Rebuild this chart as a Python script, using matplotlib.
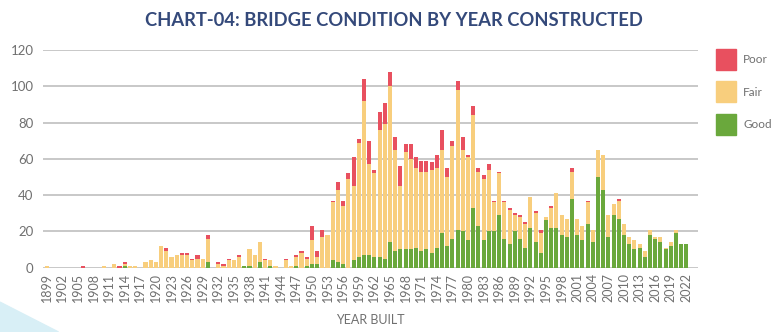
import matplotlib.pyplot as plt
import numpy as np
from matplotlib.patches import Rectangle, Polygon

plt.rcParams['font.family'] = ['Lato', 'DejaVu Sans']

first_year = 1899
last_year = 2022

# bridge counts per year built, 1899..2022
good = [0, 0, 0, 0, 0, 0, 0, 0, 0, 0,            # 1899-1908
        0, 0, 0, 0, 0, 1, 0, 0, 0, 0,            # 1909-1918
        0, 0, 0, 0, 0, 0, 0, 0, 0, 0,            # 1919-1928
        0, 3, 0, 0, 0, 0, 0, 0, 1, 1,            # 1929-1938
        0, 3, 0, 1, 0, 0, 0, 0, 1, 0,            # 1939-1948
        1, 2, 2, 0, 0, 4, 3, 2, 0, 4,            # 1949-1958
        6, 7, 7, 6, 6, 5, 14, 9, 10, 10,         # 1959-1968
        10, 11, 9, 10, 8, 11, 19, 12, 16, 21,    # 1969-1978
        20, 15, 33, 23, 15, 20, 20, 29, 16, 13,  # 1979-1988
        20, 16, 11, 22, 14, 8, 26, 22, 22, 18,   # 1989-1998
        17, 38, 18, 15, 24, 14, 50, 43, 17, 29,  # 1999-2008
        27, 18, 13, 10, 11, 6, 18, 16, 14, 10,   # 2009-2018
        12, 19, 13, 13]                          # 2019-2022
fair = [1, 0, 0, 0, 0, 0, 0, 0, 0, 0,
        0, 1, 0, 2, 0, 1, 1, 1, 0, 3,
        4, 3, 12, 9, 6, 7, 7, 7, 4, 5,
        5, 13, 0, 2, 1, 4, 4, 6, 0, 9,
        7, 11, 4, 3, 1, 0, 4, 1, 5, 8,
        4, 13, 4, 17, 18, 32, 40, 32, 49, 41,
        63, 85, 50, 46, 70, 74, 86, 56, 35, 54,
        50, 44, 44, 43, 46, 44, 46, 38, 51, 77,
        45, 46, 51, 30, 34, 34, 16, 23, 20, 19,
        9, 12, 13, 17, 16, 11, 2, 11, 19, 11,
        10, 15, 9, 8, 12, 7, 15, 19, 12, 6,
        10, 6, 4, 5, 2, 3, 3, 1, 3, 1,
        2, 2, 0, 0]
poor = [0, 0, 0, 0, 0, 0, 0, 1, 0, 0,
        0, 0, 0, 0, 1, 1, 0, 0, 0, 0,
        0, 0, 0, 2, 0, 0, 1, 1, 1, 2,
        0, 2, 0, 1, 1, 1, 0, 1, 0, 0,
        0, 0, 1, 0, 0, 0, 1, 0, 1, 1,
        1, 8, 3, 4, 0, 1, 4, 3, 3, 16,
        2, 12, 13, 2, 10, 12, 8, 7, 11, 4,
        8, 6, 6, 6, 4, 7, 11, 5, 3, 5,
        7, 1, 5, 2, 2, 3, 1, 1, 1, 1,
        1, 1, 1, 0, 1, 2, 0, 1, 0, 0,
        0, 2, 0, 0, 1, 0, 0, 0, 0, 0,
        1, 0, 0, 0, 0, 0, 0, 0, 0, 0,
        0, 0, 0, 0]

years = np.arange(first_year, last_year + 1)
good = np.array(good)
fair = np.array(fair)
poor = np.array(poor)

c_good = '#6aa83c'
c_fair = '#f8ce7d'
c_poor = '#e8505f'
grey = '#707070'

fig = plt.figure(figsize=(7.8, 3.32), dpi=100)
ax = fig.add_axes([0.0555, 0.194, 0.8395, 0.655])

x = np.arange(len(years))
w = 0.78
ax.bar(x, good, w, color=c_good, zorder=3)
ax.bar(x, fair, w, bottom=good, color=c_fair, zorder=3)
ax.bar(x, poor, w, bottom=good + fair, color=c_poor, zorder=3)

ax.set_ylim(0, 120)
ax.set_yticks(range(0, 121, 20))
ax.set_xlim(-0.65, 125.25)
ax.set_xticks(x[::3])
ax.set_xticklabels([str(y) for y in years[::3]], rotation=90)
ax.grid(axis='y', color='#c8c8c8', linewidth=1.4, zorder=0)
ax.tick_params(length=0, colors=grey, labelsize=9, pad=4)
ax.tick_params(axis='y', pad=7, labelsize=9.5)
for s in ax.spines.values():
    s.set_visible(False)

ax.set_xlabel('YEAR BUILT', color=grey, fontsize=9, labelpad=8)

fig.text(0.505, 0.937, 'CHART-04: BRIDGE CONDITION BY YEAR CONSTRUCTED',
         ha='center', va='center', fontsize=13.2, fontweight='bold',
         color='#34497a')

# legend on the right
for i, (lab, col) in enumerate([('Poor', c_poor), ('Fair', c_fair), ('Good', c_good)]):
    y0 = 332 - 70 - i * 32.5
    fig.patches.append(Rectangle((716 / 780, y0 / 332), 20 / 780, 21 / 332,
                                 transform=fig.transFigure, color=col))
    fig.text(743 / 780, (y0 + 10.5) / 332, lab, fontsize=8.5, color=grey,
             va='center', ha='left')

# light blue corner decoration
fig.patches.append(Polygon([(0, 0), (0, 0.09), (0.075, 0)], closed=True,
                           transform=fig.transFigure, color='#d8eff6', zorder=0))

fig.savefig('out.png', dpi=100)
